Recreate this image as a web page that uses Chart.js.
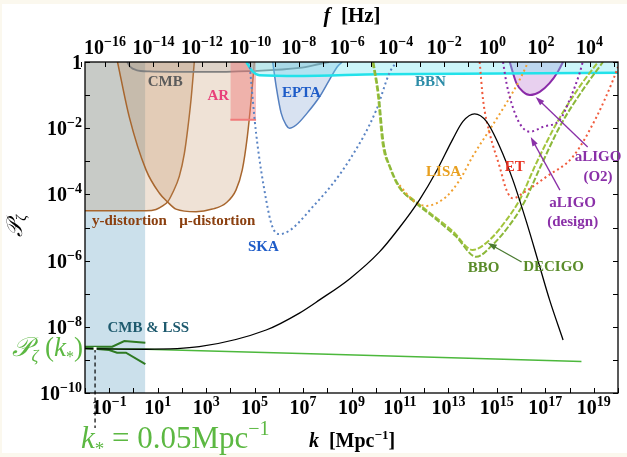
<!DOCTYPE html>
<html lang="en">
<head>
<meta charset="UTF-8">
<title>P_zeta constraints</title>
<script src="https://cdn.jsdelivr.net/npm/chart.js"></script>
<style>
  body { margin: 0; background-color: #fbf8ee; }
  #wrap { width: 627px; height: 457px; }
</style>
</head>
<body>
<div id="wrap"><canvas id="pzChart" width="627" height="457"></canvas></div>
<script>
// axis ranges
const kMin = 1e-2, kMax = 1e20;
const pMin = 1e-10, pMax = 1;
const fPerK = 1.5e-15; // f [Hz] = 1.5e-15 k [Mpc^-1]

// ticks (one per decade) and their labels, "base^exponent"
const kTickValues = [1e-2,1e-1,1e0,1e1,1e2,1e3,1e4,1e5,1e6,1e7,1e8,1e9,1e10,1e11,1e12,1e13,1e14,1e15,1e16,1e17,1e18,1e19,1e20];
const kTickLabels = ['','10^-1','','10^1','','10^3','','10^5','','10^7','','10^9','','10^11','','10^13','','10^15','','10^17','','10^19',''];
const fTickValues = [1e-17,1e-16,1e-15,1e-14,1e-13,1e-12,1e-11,1e-10,1e-9,1e-8,1e-7,1e-6,1e-5,1e-4,1e-3,1e-2,1e-1,1e0,1e1,1e2,1e3,1e4,1e5];
const fTickLabels = ['','10^-16','','10^-14','','10^-12','','10^-10','','10^-8','','10^-6','','10^-4','','10^-2','','10^0','','10^2','','10^4',''];
const pTickValues = [1e-10,1e-9,1e-8,1e-7,1e-6,1e-5,1e-4,1e-3,1e-2,1e-1,1];
const pTickLabels = ['10^-10','','10^-8','','10^-6','','10^-4','','10^-2','','1'];

// series, [k, P]
const cmbLss = [[1e-2,1],[3.1,1]];
const yDistortion = [[1e-2,3.2e-5],[3.3,3.2e-5],[8.5,3.5e-5],[16,4.5e-5],[26,6.0e-5],[41,1.1e-4],[78,3.5e-4],[126,1.7e-3],[172,8.9e-3],[237,7.1e-2],[325,1]];
const muDistortion = [[0.22,1],[0.67,2.2e-2],[3.3,5.5e-4],[11.6,1.1e-4],[25,6.0e-5],[57,3.6e-5],[383,3.0e-5],[1.8e3,3.6e-5],[6.6e3,5.5e-5],[1.7e4,1.35e-4],[3.1e4,5.5e-4],[5.0e4,5.5e-3],[7.2e4,7.1e-2],[9.8e4,1]];
const cmb = [[0.55,1],[0.74,0.71],[1.3,0.57],[4.5,0.52],[520,0.50],[6.1e4,0.53],[7.1e6,0.66],[4.8e7,0.87],[1.2e8,1]];
const ar = [[1e4,1.8e-2],[1.15e5,1.8e-2]];
const epta = [[5.6e5,1],[7.8e5,0.18],[1.24e6,2.9e-2],[2.0e6,1.25e-2],[2.75e6,1.0e-2],[5.2e6,1.25e-2],[1.5e7,2.9e-2],[4.8e7,8.9e-2],[1.23e8,0.29],[2.6e8,0.72],[4.1e8,1]];
const bbn = [[4.6e4,1],[7.4e4,0.57],[1.6e5,0.40],[7.1e6,0.38],[1.4e10,0.43],[1e20,0.47]];
const ska = [[6.1e4,1],[1.15e5,7.2e-3],[3.0e5,6.8e-5],[5.4e5,1.06e-5],[1.06e6,6.3e-6],[3.5e7,5.5e-5],[8.3e8,1.1e-3],[1.05e10,3.5e-2],[3.7e10,0.47],[7.1e10,1]];
const bbo = [[7.4e9,1],[1.2e10,0.115],[1.9e10,3.6e-3],[3.7e10,6.9e-4],[9.6e10,1.56e-4],[3.3e11,7.2e-5],[2.2e12,2.4e-5],[1.5e13,7.8e-6],[1.0e14,2.1e-6],[5.0e14,4.2e-6],[2.5e15,1.7e-5],[8.7e15,6.8e-5],[4.3e16,8.9e-4],[2.9e17,1.4e-2],[2.6e18,0.18],[1.5e19,1]];
const decigo = [[8e9,1],[1.3e10,0.115],[2.1e10,3.6e-3],[4.1e10,6.3e-4],[1.2e11,1.35e-4],[4.0e11,5.9e-5],[3.0e12,1.8e-5],[2.0e13,5.5e-6],[1.4e14,1.3e-6],[6.7e14,3.0e-6],[3.4e15,1.2e-5],[1.3e16,5.5e-5],[6.5e16,7.2e-4],[4.3e17,1.25e-2],[3.9e18,0.16],[2.4e19,1]];
const lisa = [[9.6e10,1.9e-4],[3.3e11,6.8e-5],[1.2e12,4.5e-5],[8.1e12,8.5e-5],[2.9e13,2.7e-4],[1.0e14,1.4e-3],[5.0e14,8.9e-3],[2.5e15,5.8e-2],[8.7e15,0.29],[1.7e16,0.81],[1.9e16,1]];
const et = [[1.95e14,1],[2.7e14,7.1e-2],[5.0e14,7.2e-3],[1.3e15,6.9e-4],[2.5e15,1.35e-4],[4.6e15,7.6e-5],[1.2e16,1.1e-4],[1.1e17,3.4e-4],[1.4e18,1.4e-3],[1.3e19,2.2e-2],[6.3e19,0.29],[1e20,0.71]];
const ligoO2 = [[3.4e15,1],[6.4e15,0.23],[1.2e16,0.126],[2.3e16,0.10],[5.9e16,0.126],[1.5e17,0.23],[3.3e17,0.51],[5.4e17,1]];
const ligoDesign = [[1.8e15,1],[2.5e15,0.23],[4.0e15,5.8e-2],[8.7e15,1.4e-2],[2.3e16,7.8e-3],[8.0e16,1.1e-2],[4.0e17,1.8e-2],[1.0e18,7.1e-2],[2.6e18,0.46],[3.5e18,1]];
const model = [[1e-2,2.2e-9],[3.3,2.1e-9],[520,2.5e-9],[3.0e5,8.0e-9],[7.1e6,2.6e-8],[4.8e7,6.5e-8],[8.3e8,2.8e-7],[1.4e10,1.8e-6],[9.6e10,1.0e-5],[6.5e11,7.0e-5],[3.2e12,5.0e-4],[1.5e13,4.6e-3],[4.0e13,1.6e-2],[1.2e14,2.7e-2],[3.7e14,1.6e-2],[1.3e15,2.8e-3],[4.6e15,2.7e-4],[1.7e16,1.4e-5],[5.9e16,6.5e-7],[1.5e17,6.5e-8],[5.4e17,4.0e-9]];
const scaleInv = [[1e-2,2.2e-9],[3.3,2.1e-9],[4.8e7,1.5e-9],[3.1e18,8.9e-10]];
const errUpper = [[1e-2,2.5e-9],[0.133,2.5e-9],[0.42,3.7e-9],[3.1,3.3e-9]];
const errLower = [[1e-2,2.3e-9],[0.1,2.0e-9],[0.21,1.65e-9],[0.49,1.65e-9],[3.1,7.4e-10]];
const kStar = 0.026, pStar = 2.2e-9;

// region labels [text, k, P, colour]
const regionLabels = [
  ['CMB', 20.6, 0.25, '#5b5b5b'],
  ['AR', 3.2e3, 0.094, '#e8407a'],
  ['EPTA', 8.5e6, 0.115, '#1e5cc8'],
  ['BBN', 1.8e12, 0.25, '#2c8ca8'],
  ['SKA', 2.3e5, 2.6e-6, '#1e5cc8'],
  ['y-distortion', 0.68, 1.6e-5, '#8b4010'],
  ['μ-distortion', 2.9e3, 1.6e-5, '#8b4010'],
  ['LISA', 6.3e12, 4.8e-4, '#e8a020'],
  ['ET', 5.5e15, 6.7e-4, '#e83020'],
  ['aLIGO', 1.5e19, 1.35e-3, '#8a30a8'],
  ['(O2)', 1.5e19, 3.4e-4, '#8a30a8'],
  ['aLIGO', 1.35e18, 5.5e-5, '#8a30a8'],
  ['(design)', 1.35e18, 1.5e-5, '#8a30a8'],
  ['BBO', 2.8e14, 6.0e-7, '#5a8c2a'],
  ['DECIGO', 2.2e17, 6.4e-7, '#5a8c2a'],
  ['CMB & LSS', 4.1, 9.2e-9, '#1e5a6e']
];
// arrows [k0, P0, k1, P1, colour]
const arrows = [
  [5.6e18, 2.7e-3, 4.0e16, 8.8e-2, '#8a30a8'],
  [4.0e17, 1.35e-4, 2.5e16, 5.4e-3, '#8a30a8'],
  [1.05e16, 9.1e-7, 4.2e14, 3.4e-6, '#4a7a30']
];

const serif = '"Liberation Serif", "Times New Roman", serif';

function pts(arr) {
    return arr.map(p => ({ x: p[0], y: p[1] }));
}

function series(arr, opts) {
    return Object.assign({
        data: pts(arr),
        pointRadius: 0,
        borderWidth: 1.5,
        fill: false,
        cubicInterpolationMode: 'monotone'
    }, opts);
}

const datasets = [
    series(cmbLss, { borderWidth: 0, borderColor: 'rgba(0,0,0,0)', backgroundColor: 'rgba(110,170,200,0.36)', fill: 'start', cubicInterpolationMode: 'default', tension: 0 }),
    series(yDistortion, { borderColor: '#a8662e', backgroundColor: 'rgba(190,140,90,0.25)', fill: 'end' }),
    series(muDistortion, { borderColor: '#a8662e', backgroundColor: 'rgba(190,140,90,0.25)', fill: 'end' }),
    series(cmb, { borderColor: '#808080', backgroundColor: 'rgba(120,120,120,0.15)', fill: 'end', borderWidth: 1.8 }),
    series(ar, { borderColor: '#f07a7a', backgroundColor: 'rgba(240,120,120,0.45)', fill: 'end', borderWidth: 2 }),
    series(epta, { borderColor: '#5580c0', backgroundColor: 'rgba(100,140,200,0.25)', fill: 'end' }),
    series(ligoO2, { borderColor: '#8a2aa8', backgroundColor: 'rgba(190,120,210,0.35)', fill: 'end', borderWidth: 2 }),
    series(bbn, { borderColor: '#22e2ea', backgroundColor: 'rgba(110,230,240,0.35)', fill: 'end', borderWidth: 2.5 }),
    series(ska, { borderColor: '#5a84c4', borderDash: [2, 3], borderWidth: 2 }),
    series(bbo, { borderColor: '#a2c43c', borderDash: [6, 2], borderWidth: 2 }),
    series(decigo, { borderColor: '#8cb83a', borderDash: [6, 2], borderWidth: 2 }),
    series(lisa, { borderColor: '#f0a030', borderDash: [2, 3], borderWidth: 2 }),
    series(et, { borderColor: '#f05a3c', borderDash: [2, 3], borderWidth: 2 }),
    series(ligoDesign, { borderColor: '#8a2aa8', borderDash: [2, 3], borderWidth: 2 }),
    series(scaleInv, { borderColor: '#4cb83c', borderWidth: 1.5 }),
    series(errUpper, { borderColor: '#2e7a22', borderWidth: 2, cubicInterpolationMode: 'default', tension: 0 }),
    series(errLower, { borderColor: '#2e7a22', borderWidth: 2, cubicInterpolationMode: 'default', tension: 0 }),
    series(model, { borderColor: '#000000', borderWidth: 1.3 })
];
// first in the list is drawn first
datasets.forEach((d, i) => { d.order = datasets.length - i; });

// draws text made of parts (for sub/superscripts)
function drawRich(ctx, parts, x, y, align) {
    let total = 0;
    parts.forEach(p => { ctx.font = p.font; p.w = ctx.measureText(p.t).width; total += p.w; });
    let cx = align === 'center' ? x - total / 2 : (align === 'right' ? x - total : x);
    ctx.textAlign = 'left';
    parts.forEach(p => {
        ctx.font = p.font;
        ctx.fillText(p.t, cx, y + (p.dy || 0));
        cx += p.w;
    });
}

// "10^-4" -> 10 with raised exponent
function drawTickLabel(ctx, label, x, y, align) {
    if (!label) return;
    const bits = label.split('^');
    const parts = [{ t: bits[0], font: 'bold 20px ' + serif }];
    if (bits[1]) parts.push({ t: bits[1].replace('-', '−'), font: 'bold 14px ' + serif, dy: -8 });
    drawRich(ctx, parts, x, y, align);
}

function drawArrow(ctx, x0, y0, x1, y1, color) {
    const ang = Math.atan2(y1 - y0, x1 - x0);
    const len = 9, half = 3;
    ctx.strokeStyle = color;
    ctx.fillStyle = color;
    ctx.lineWidth = 1.3;
    ctx.beginPath();
    ctx.moveTo(x0, y0);
    ctx.lineTo(x1 - Math.cos(ang) * len * 0.8, y1 - Math.sin(ang) * len * 0.8);
    ctx.stroke();
    ctx.beginPath();
    ctx.moveTo(x1, y1);
    ctx.lineTo(x1 - Math.cos(ang) * len - Math.sin(ang) * half, y1 - Math.sin(ang) * len + Math.cos(ang) * half);
    ctx.lineTo(x1 - Math.cos(ang) * len + Math.sin(ang) * half, y1 - Math.sin(ang) * len - Math.cos(ang) * half);
    ctx.closePath();
    ctx.fill();
}

const decor = {
    id: 'decor',
    beforeDraw(chart) {
        const ctx = chart.ctx;
        ctx.save();
        ctx.fillStyle = '#fbf8ee';
        ctx.fillRect(0, 0, chart.width, chart.height);
        ctx.fillStyle = '#ffffff';
        ctx.fillRect(2, 4, chart.width - 2, chart.height - 8);
        ctx.restore();
    },
    afterDatasetsDraw(chart) {
        const ctx = chart.ctx;
        const a = chart.chartArea;
        const xs = chart.scales.x, xt = chart.scales.xTop, ys = chart.scales.y;
        ctx.save();

        // inward tick marks
        ctx.strokeStyle = '#000';
        ctx.lineWidth = 1;
        ctx.beginPath();
        kTickValues.forEach(v => {
            const px = Math.round(xs.getPixelForValue(v)) + 0.5;
            ctx.moveTo(px, a.bottom); ctx.lineTo(px, a.bottom - 5);
        });
        fTickValues.forEach(v => {
            const px = Math.round(xt.getPixelForValue(v)) + 0.5;
            ctx.moveTo(px, a.top); ctx.lineTo(px, a.top + 5);
        });
        pTickValues.forEach(v => {
            const py = Math.round(ys.getPixelForValue(v)) + 0.5;
            ctx.moveTo(a.left, py); ctx.lineTo(a.left + 5, py);
            ctx.moveTo(a.right, py); ctx.lineTo(a.right - 5, py);
        });
        ctx.stroke();

        // frame
        ctx.lineWidth = 1.3;
        ctx.strokeRect(a.left, a.top, a.right - a.left, a.bottom - a.top);

        // tick labels
        ctx.fillStyle = '#000';
        ctx.textBaseline = 'alphabetic';
        kTickValues.forEach((v, i) => drawTickLabel(ctx, kTickLabels[i], xs.getPixelForValue(v), a.bottom + 21, 'center'));
        fTickValues.forEach((v, i) => drawTickLabel(ctx, fTickLabels[i], xt.getPixelForValue(v), a.top - 8, 'center'));
        pTickValues.forEach((v, i) => drawTickLabel(ctx, pTickLabels[i], a.left - 3, ys.getPixelForValue(v) + 7, 'right'));

        // k_* marker and dashed line
        const sx = xs.getPixelForValue(kStar), sy = ys.getPixelForValue(pStar);
        ctx.strokeStyle = '#000';
        ctx.setLineDash([4, 3]);
        ctx.lineWidth = 1.2;
        ctx.beginPath();
        ctx.moveTo(sx, sy); ctx.lineTo(sx, 428);
        ctx.stroke();
        ctx.setLineDash([]);
        ctx.fillStyle = '#ffffff';
        ctx.fillRect(sx - 1.5, sy - 1.5, 3, 3);

        // arrows
        arrows.forEach(r => {
            drawArrow(ctx, xs.getPixelForValue(r[0]), ys.getPixelForValue(r[1]),
                xs.getPixelForValue(r[2]), ys.getPixelForValue(r[3]), r[4]);
        });

        // region labels
        ctx.textAlign = 'center';
        ctx.textBaseline = 'middle';
        ctx.font = 'bold 15px ' + serif;
        regionLabels.forEach(l => {
            ctx.fillStyle = l[3];
            ctx.fillText(l[0], xs.getPixelForValue(l[1]), ys.getPixelForValue(l[2]));
        });

        // outside annotations
        ctx.textBaseline = 'alphabetic';
        ctx.fillStyle = '#000';
        drawRich(ctx, [
            { t: 'f', font: 'italic bold 21px ' + serif },
            { t: '  [Hz]', font: 'bold 21px ' + serif }
        ], 352, 22, 'center');
        drawRich(ctx, [
            { t: 'k', font: 'italic bold 20px ' + serif },
            { t: '  [Mpc', font: 'bold 20px ' + serif },
            { t: '−1', font: 'bold 13px ' + serif, dy: -8 },
            { t: ']', font: 'bold 20px ' + serif }
        ], 352, 447, 'center');

        ctx.fillStyle = '#5cb842';
        drawRich(ctx, [
            { t: '𝒫', font: 'italic 27px ' + serif },
            { t: 'ζ', font: 'italic 17px ' + serif, dy: 5 },
            { t: ' (', font: '27px ' + serif },
            { t: 'k', font: 'italic 27px ' + serif },
            { t: '*', font: '16px ' + serif, dy: 6 },
            { t: ')', font: '27px ' + serif }
        ], 83, 356, 'right');
        drawRich(ctx, [
            { t: 'k', font: 'italic 31px ' + serif },
            { t: '*', font: '19px ' + serif, dy: 7 },
            { t: ' = 0.05Mpc', font: '31px ' + serif },
            { t: '−1', font: '20px ' + serif, dy: -13 }
        ], 81, 448, 'left');

        // y axis title
        ctx.fillStyle = '#000';
        ctx.translate(16, 226);
        ctx.rotate(-Math.PI / 2);
        drawRich(ctx, [
            { t: '𝒫', font: 'italic 22px ' + serif },
            { t: 'ζ', font: 'italic 14px ' + serif, dy: 4 }
        ], 0, 6, 'center');
        ctx.restore();
    }
};

new Chart(document.getElementById('pzChart'), {
    type: 'line',
    data: { datasets: datasets },
    options: {
        responsive: false,
        animation: false,
        layout: { padding: { left: 0, right: 9, top: 0, bottom: 0 } },
        plugins: { legend: { display: false }, tooltip: { enabled: false } },
        scales: {
            x: {
                type: 'logarithmic', position: 'bottom', min: kMin, max: kMax,
                grid: { display: false, drawTicks: false }, border: { display: false },
                afterBuildTicks: s => { s.ticks = kTickValues.map(v => ({ value: v })); },
                afterFit: s => { s.height = 64; },
                ticks: { display: false }
            },
            xTop: {
                type: 'logarithmic', position: 'top', axis: 'x', min: kMin * fPerK, max: kMax * fPerK,
                grid: { display: false, drawTicks: false }, border: { display: false },
                afterBuildTicks: s => { s.ticks = fTickValues.map(v => ({ value: v })); },
                afterFit: s => { s.height = 62; },
                ticks: { display: false }
            },
            y: {
                type: 'logarithmic', position: 'left', min: pMin, max: pMax,
                grid: { display: false, drawTicks: false }, border: { display: false },
                afterBuildTicks: s => { s.ticks = pTickValues.map(v => ({ value: v })); },
                afterFit: s => { s.width = 85; },
                ticks: { display: false }
            }
        }
    },
    plugins: [decor]
});
</script>
</body>
</html>
